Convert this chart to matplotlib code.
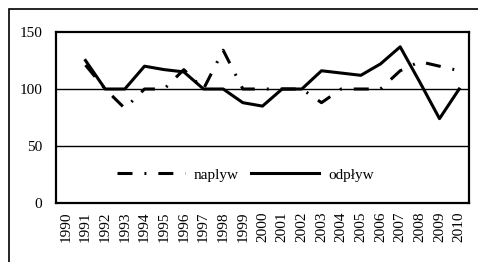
import matplotlib
matplotlib.use('Agg')
import matplotlib.pyplot as plt
from matplotlib.patches import Rectangle
import numpy as np

years = [str(y) for y in range(1990, 2011)]
naplyw = [np.nan, 121, 100, 83, 100, 100, 117, 100, 134, 100, 100,
          100, 100, 88, 100, 100, 100, 116, 124, 120, 116]
odplyw = [np.nan, 125, 100, 100, 120, 117, 115, 100, 100, 88, 85,
          100, 100, 116, 114, 112, 122, 137, 106, 74, 100]
yticks = [0, 50, 100, 150]

plt.rcParams['font.family'] = ['Liberation Serif', 'DejaVu Serif']
plt.rcParams['font.size'] = 11
plt.rcParams['lines.scale_dashes'] = False

fig = plt.figure(figsize=(4.78, 2.62), dpi=100)
# outer chart frame (only left and top edges visible in the picture)
fig.patches.append(Rectangle((9 / 478, -0.2), 1.2, 1 - 9 / 262 + 0.2,
                             transform=fig.transFigure, fill=False,
                             edgecolor='black', linewidth=1.2))

ax = fig.add_axes([56 / 478, 59 / 262, 413 / 478, 171 / 262])
x = np.arange(len(years))

ax.plot(x, naplyw, color='black', linewidth=2.2,
        linestyle=(0, (10.8, 8.6, 1.4, 8.6)), label='naplyw')
ax.plot(x, odplyw, color='black', linewidth=2.2, label='odpływ')

ax.set_xlim(-0.5, len(years) - 0.5)
ax.set_ylim(0, 150)
ax.set_yticks(yticks)
ax.set_xticks(x)
ax.set_xticklabels(years, rotation=90)
ax.tick_params(axis='both', length=0)
ax.tick_params(axis='y', pad=10)
ax.tick_params(axis='x', pad=6)
for v in [50, 100]:
    ax.axhline(v, color='black', linewidth=1.0, zorder=0)
for s in ax.spines.values():
    s.set_linewidth(1.6)

ax.legend(loc='center', bbox_to_anchor=(0.458, 0.164), ncol=2, frameon=False,
          handlelength=4.45, handletextpad=0.6, columnspacing=0.8,
          fontsize=11)

fig.savefig('out.png', dpi=100)
